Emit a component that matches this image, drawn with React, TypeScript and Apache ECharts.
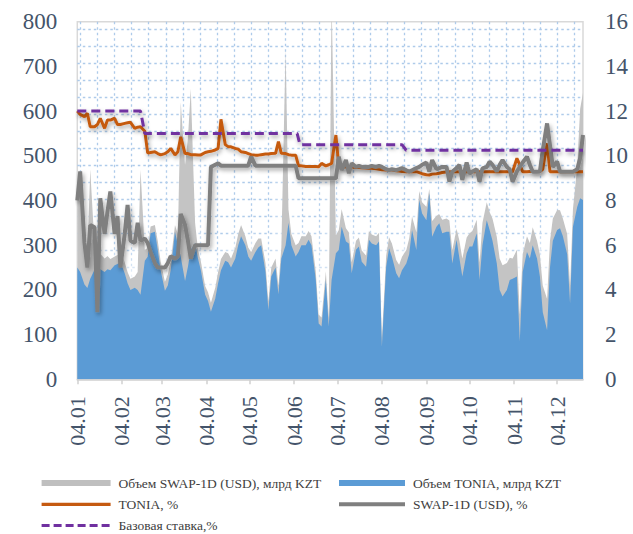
import React, { useEffect, useRef } from 'react';
import * as echarts from 'echarts';

// Business-day sample dates of 2017 (MM-DD)
const dates = [
  '01-04','01-06','01-09','01-11','01-13','01-16','01-18','01-20','01-23','01-25','01-27','01-30',
  '02-01','02-03','02-06','02-08','02-10','02-13','02-15','02-17','02-20','02-22','02-24','02-27',
  '03-01','03-03','03-06','03-08','03-10','03-13','03-15','03-17','03-20','03-22','03-24','03-27','03-29','03-31',
  '04-03','04-05','04-07','04-10','04-12','04-14','04-17','04-19','04-21','04-24','04-26','04-28',
  '05-01','05-03','05-05','05-08','05-10','05-12','05-15','05-17','05-19','05-22','05-24','05-26','05-29','05-31',
  '06-02','06-05','06-07','06-09','06-12','06-14','06-16','06-19','06-21','06-23','06-26','06-28','06-30',
  '07-03','07-05','07-07','07-10','07-12','07-14','07-17','07-19','07-21','07-24','07-26','07-28','07-31',
  '08-02','08-04','08-07','08-09','08-11','08-14','08-16','08-18','08-21','08-23','08-25','08-28','08-30',
  '09-01','09-04','09-06','09-08','09-11','09-13','09-15','09-18','09-20','09-22','09-25','09-27','09-29',
  '10-02','10-04','10-06','10-09','10-11','10-13','10-16','10-18','10-20','10-23','10-25','10-27','10-30',
  '11-01','11-03','11-06','11-08','11-10','11-13','11-15','11-17','11-20','11-22','11-24','11-27','11-29',
  '12-01','12-04','12-06','12-08','12-11','12-13','12-15','12-18','12-20','12-22',
];

// Объем TONIA, млрд KZT
const toniaVolume = [
  250,240,212,204,225,245,252,246,240,246,244,255,
  258,263,237,215,200,205,200,189,265,274,327,330,
  290,244,198,210,244,330,300,274,220,252,290,305,270,244,
  189,175,151,180,215,244,265,262,250,270,300,320,
  300,275,265,285,295,300,240,155,230,250,190,270,300,350,
  300,275,285,300,300,312,300,222,125,118,222,118,222,
  282,289,341,308,304,237,290,297,263,252,312,304,300,
  308,73,252,293,274,237,226,244,259,280,334,289,401,
  371,356,416,319,341,349,327,330,330,259,312,270,230,
  282,297,297,327,222,300,356,334,310,259,200,185,200,
  222,225,230,85,240,285,270,300,270,230,150,110,250,
  310,334,338,320,280,170,341,386,405,401,
];

// Объем SWAP-1D (USD), млрд KZT (drawn stacked above TONIA volume)
const swapVolume = [
  170,200,90,70,245,55,40,35,30,30,25,20,
  20,25,25,25,25,25,40,280,25,20,15,15,
  20,20,20,25,20,15,25,346,260,288,360,45,20,20,
  20,20,20,25,25,25,20,20,20,25,25,25,
  20,20,20,20,20,15,20,20,20,20,20,25,440,30,
  25,25,20,20,20,20,20,20,20,20,20,20,630,
  40,45,40,30,25,25,20,20,25,25,20,20,20,
  20,20,25,25,30,30,30,30,30,35,30,40,20,
  25,30,10,35,25,20,30,30,25,30,25,40,40,
  35,30,35,30,40,50,40,40,50,60,70,70,60,
  50,45,60,60,40,35,35,40,40,50,60,70,60,
  50,45,40,40,45,40,40,90,200,240,
];

// TONIA, %
const toniaRate = [
  12.0,11.85,11.75,11.9,11.3,11.3,11.4,11.68,11.23,11.6,11.6,11.68,
  11.4,11.4,11.45,11.48,11.5,11.23,11.28,11.3,11.1,10.12,10.15,10.18,
  10.1,10.04,10.1,10.18,10.33,10.04,10.18,10.85,10.1,10.1,10.05,10.05,10.04,10.04,
  10.15,10.18,10.2,10.26,10.33,11.63,10.5,10.41,10.4,10.33,10.3,10.18,
  10.15,10.1,10.05,10.03,10.03,10.05,10.08,10.08,10.1,10.11,10.63,10.11,10.1,10.05,
  10.03,10.03,9.55,9.55,9.52,9.52,9.52,9.52,9.51,9.66,9.55,9.6,9.66,
  10.93,9.55,9.5,9.5,9.5,9.5,9.48,9.48,9.46,9.45,9.44,9.44,9.42,
  9.4,9.38,9.36,9.36,9.36,9.33,9.32,9.3,9.29,9.29,9.29,9.29,9.25,
  9.2,9.15,9.14,9.18,9.2,9.22,9.25,9.27,9.29,9.29,9.29,9.29,9.29,
  9.29,9.29,9.29,9.29,9.29,9.29,9.29,9.29,9.29,9.29,9.29,9.29,9.29,
  9.29,9.29,9.89,9.6,9.29,9.29,9.3,9.3,9.3,9.3,9.4,10.56,9.29,
  9.29,9.29,9.29,9.29,9.29,9.29,9.29,9.29,9.29,9.29,
];

// SWAP-1D (USD), %
const swapRate = [
  8.0,9.3,6.1,5.0,6.9,6.8,3.0,8.1,6.5,7.5,8.4,6.5,
  7.3,5.0,6.5,7.8,6.2,6.1,7.0,6.2,6.3,6.1,5.7,5.2,
  5.0,5.0,5.0,5.2,5.5,5.4,5.5,7.4,6.9,6.2,5.4,6.0,6.0,6.0,
  6.0,6.0,9.5,9.6,9.66,9.56,9.56,9.56,9.56,9.56,9.56,9.56,
  9.56,9.56,9.96,9.56,9.56,9.56,9.56,9.56,9.56,9.56,9.56,9.56,9.56,9.56,
  9.56,9.56,8.99,8.99,8.99,8.99,8.99,8.99,8.99,8.99,8.99,8.99,8.99,
  8.99,9.96,9.36,9.81,9.22,9.66,9.5,9.55,9.5,9.51,9.5,9.55,9.5,
  9.55,9.5,9.4,9.36,9.4,9.36,9.4,9.45,9.35,9.29,9.35,9.45,9.5,
  9.6,9.7,9.3,9.81,9.4,9.45,9.5,9.5,8.84,9.29,9.45,9.59,8.92,
  9.7,9.2,9.3,9.4,8.84,9.44,9.5,9.74,9.6,9.3,9.6,9.81,9.5,
  9.4,8.84,9.3,9.5,9.7,9.96,9.6,9.29,9.29,9.3,10.26,11.45,10.48,
  9.5,9.74,9.29,9.29,9.29,9.29,9.29,9.4,9.9,10.93,
];

// Базовая ставка, %
const baseDates = ['01-04','02-17','02-20','06-06','06-08','08-18','08-21','12-22'];
const baseRate = [12, 12, 11, 11, 10.5, 10.5, 10.25, 10.25];

// x-axis tick dates and their labels
const xTickDates = ['01-04','02-04','03-04','04-04','05-04','06-04','07-04','08-04','09-04','10-04','11-04','12-04'];
const xTickLabels = ['04.01','04.02','04.03','04.04','04.05','04.06','04.07','04.08','04.09','04.10','04.11','04.12'];

const N_SWAPVOL = 'Объем SWAP-1D (USD), млрд KZT';
const N_TONIAVOL = 'Объем TONIA, млрд KZT';
const N_TONIA = 'TONIA, %';
const N_SWAP = 'SWAP-1D (USD), %';
const N_BASE = 'Базовая ставка,%';

// days elapsed since 2017-01-04
const dayOf = (md: string) => {
  const [m, d] = md.split('-').map(Number);
  return Math.round((Date.UTC(2017, m - 1, d) - Date.UTC(2017, 0, 4)) / 86400000);
};

export default function App() {
  const ref = useRef<HTMLDivElement>(null);
  useEffect(() => {
    if (!ref.current) return;
    const chart = echarts.init(ref.current, null, { renderer: 'svg' });
    const x = dates.map(dayOf);
    const ticks = xTickDates.map(dayOf);
    const serif = 'Liberation Serif, Times New Roman, serif';
    const dotStyle = { color: '#aecbea', width: 1.3, type: [2.5, 3] as any };
    const lineShadow = { shadowColor: 'rgba(0,0,0,0.35)', shadowBlur: 4, shadowOffsetX: 1.5, shadowOffsetY: 2.5 };
    const legendText = { fontFamily: serif, fontSize: 13.5, color: '#404040', padding: [0, 0, 0, 3] };
    const legendCommon = {
      orient: 'vertical', itemHeight: 6, itemGap: 7.3, padding: 0, top: 476, height: 80,
      selectedMode: false, textStyle: legendText,
    };
    const noShadow = { shadowBlur: 0, shadowOffsetX: 0, shadowOffsetY: 0 };

    const option: any = {
      animation: false,
      backgroundColor: '#ffffff',
      grid: {
        left: 77.3, right: 50, top: 21.7, bottom: 154.7,
        show: true, borderColor: '#d9d9d9', borderWidth: 1.5, backgroundColor: 'transparent',
      },
      legend: [
        {
          ...legendCommon, left: 40, itemWidth: 69,
          data: [
            { name: N_SWAPVOL, icon: 'rect' },
            { name: N_TONIA, itemStyle: { opacity: 0 }, lineStyle: { width: 3.2, ...noShadow } },
            { name: N_BASE, itemStyle: { opacity: 0 }, lineStyle: { width: 3, type: [8, 4], ...noShadow } },
          ],
        },
        {
          ...legendCommon, left: 337, itemWidth: 66,
          data: [
            { name: N_TONIAVOL, icon: 'rect' },
            { name: N_SWAP, itemStyle: { opacity: 0 }, lineStyle: { width: 4, ...noShadow } },
          ],
        },
      ],
      xAxis: [
        {
          type: 'value', min: 0, max: dayOf('12-22'),
          axisLine: { show: true, onZero: false, lineStyle: { color: '#d0d0d0', width: 1.5 } },
          axisTick: { show: true, customValues: ticks, length: 5, lineStyle: { color: '#d0d0d0', width: 1.5 } },
          axisLabel: {
            show: true, customValues: ticks, rotate: 90, margin: 17,
            fontFamily: serif, fontSize: 22, color: '#44546a',
            formatter: (v: number) => {
              const i = ticks.indexOf(Math.round(v));
              return i >= 0 ? xTickLabels[i] : '';
            },
          },
          splitLine: { show: false },
        },
        {
          type: 'value', position: 'top', min: -2, max: 295.3, minInterval: 10, maxInterval: 10,
          axisLine: { show: false }, axisTick: { show: false }, axisLabel: { show: false },
          splitLine: { show: true, showMinLine: false, showMaxLine: false, lineStyle: dotStyle },
        },
      ],
      yAxis: [
        {
          type: 'value', position: 'left', min: 0, max: 800, interval: 100,
          axisLine: { show: false }, axisTick: { show: false }, splitLine: { show: false },
          axisLabel: { margin: 20, fontFamily: serif, fontSize: 23, color: '#44546a' },
        },
        {
          type: 'value', position: 'right', min: 0, max: 16, interval: 2,
          axisLine: { show: false }, axisTick: { show: false }, splitLine: { show: false },
          axisLabel: { margin: 22, fontFamily: serif, fontSize: 23, color: '#44546a' },
        },
        {
          type: 'value', position: 'left', min: -5.88, max: 204.47, minInterval: 10, maxInterval: 10,
          axisLine: { show: false }, axisTick: { show: false }, axisLabel: { show: false },
          splitLine: { show: true, showMinLine: false, showMaxLine: false, lineStyle: dotStyle },
        },
      ],
      series: [
        {
          name: N_SWAPVOL, type: 'line', xAxisIndex: 0, yAxisIndex: 0, z: 1,
          symbol: 'none', showSymbol: false,
          // SWAP volume sits on top of TONIA volume
          data: x.map((t, i) => [t, toniaVolume[i] + swapVolume[i]]),
          itemStyle: { color: '#bfbfbf' },
          lineStyle: { width: 0, color: '#bfbfbf' },
          areaStyle: { color: '#c4c4c4', opacity: 1, shadowColor: '#ffffff', shadowBlur: 16 },
        },
        {
          name: N_TONIAVOL, type: 'line', xAxisIndex: 0, yAxisIndex: 0, z: 2,
          symbol: 'none', showSymbol: false,
          data: x.map((t, i) => [t, toniaVolume[i]]),
          itemStyle: { color: '#5b9bd5' },
          lineStyle: { width: 0, color: '#5b9bd5' },
          areaStyle: { color: '#5b9bd5', opacity: 1 },
        },
        {
          name: N_TONIA, type: 'line', xAxisIndex: 0, yAxisIndex: 1, z: 3,
          symbol: 'none', showSymbol: false,
          data: x.map((t, i) => [t, toniaRate[i]]),
          itemStyle: { color: '#c55a11' },
          lineStyle: { width: 3, color: '#c55a11', ...lineShadow },
        },
        {
          name: N_SWAP, type: 'line', xAxisIndex: 0, yAxisIndex: 1, z: 4,
          symbol: 'none', showSymbol: false,
          data: x.map((t, i) => [t, swapRate[i]]),
          itemStyle: { color: '#7f7f7f' },
          lineStyle: { width: 4, color: '#7f7f7f', ...lineShadow },
        },
        {
          name: N_BASE, type: 'line', xAxisIndex: 0, yAxisIndex: 1, z: 5,
          symbol: 'none', showSymbol: false,
          data: baseDates.map((d, i) => [dayOf(d), baseRate[i]]),
          itemStyle: { color: '#7030a0' },
          lineStyle: { width: 3, color: '#7030a0', type: [9, 5], ...lineShadow },
        },
      ],
    };
    chart.setOption(option);
    return () => chart.dispose();
  }, []);
  return (
    <div
      ref={ref}
      style={{ position: 'fixed', left: 0, top: 0, width: 633, height: 534, background: '#fff' }}
    />
  );
}
